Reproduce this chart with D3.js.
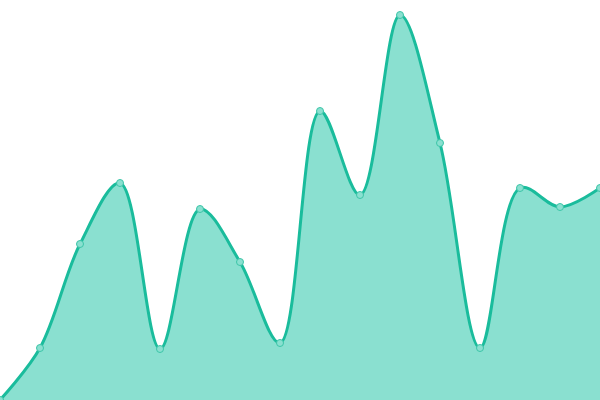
<!DOCTYPE html>
<html>
<head>
<meta charset="utf-8">
<script src="https://cdn.jsdelivr.net/npm/d3@7"></script>
<style>
  html, body { margin: 0; padding: 0; background: #fff; }
</style>
</head>
<body>
<div id="chart"></div>
<script>
// Data
const labels = ["0", "1", "2", "3", "4", "5", "6", "7", "8", "9", "10", "11", "12", "13", "14", "15"];
const values = [0, 52, 156, 217, 51, 191, 138, 57, 289, 205, 385, 257, 52, 212, 193, 212];

const width = 600, height = 400;

const svg = d3.select("#chart")
    .append("svg")
    .attr("width", width)
    .attr("height", height);

const x = d3.scalePoint()
    .domain(labels)
    .range([0, width]);

const y = d3.scaleLinear()
    .domain([0, 400])
    .range([height, 0]);

const curve = d3.curveCatmullRom.alpha(0.5);

// filled area
svg.append("path")
    .datum(values)
    .attr("fill", "#8ae0d0")
    .attr("d", d3.area()
        .x((d, i) => x(labels[i]))
        .y0(height)
        .y1(d => y(d))
        .curve(curve));

// line on top
svg.append("path")
    .datum(values)
    .attr("fill", "none")
    .attr("stroke", "#1abc9c")
    .attr("stroke-width", 3)
    .attr("d", d3.line()
        .x((d, i) => x(labels[i]))
        .y(d => y(d))
        .curve(curve));

// point markers
svg.append("g")
    .selectAll("circle")
    .data(values)
    .enter()
    .append("circle")
    .attr("cx", (d, i) => x(labels[i]))
    .attr("cy", d => y(d))
    .attr("r", 3.5)
    .attr("fill", "#8ae0d0")
    .attr("stroke", "#3cc5a8")
    .attr("stroke-width", 1);
</script>
</body>
</html>
